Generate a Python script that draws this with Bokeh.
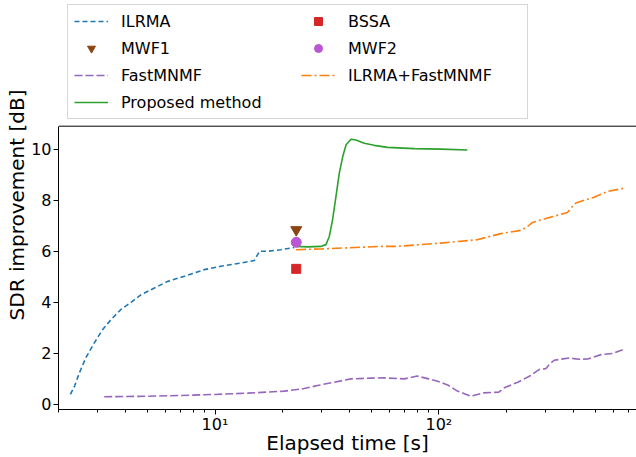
from bokeh.plotting import figure
from bokeh.models import Legend, LegendItem, CustomJSTickFormatter, Span, LogTicker
from bokeh.embed import file_html
from bokeh.resources import INLINE

# ---------------- data ----------------
ilrma_t = [2.26, 2.36, 2.48, 2.65, 2.89, 3.15, 3.43, 3.80, 4.22, 4.68, 5.36, 6.15,
           7.30, 8.96, 10.6, 13.1, 15.0, 15.8, 17.2, 19.7, 22.6]
ilrma_y = [0.39, 0.72, 1.24, 1.83, 2.41, 2.93, 3.32, 3.72, 4.00, 4.30, 4.56, 4.82,
           5.02, 5.28, 5.41, 5.54, 5.64, 6.00, 6.00, 6.06, 6.15]

bssa_t = [23.06]
bssa_y = [5.31]
mwf1_t = [23.06]
mwf1_y = [6.84]
mwf2_t = [23.06]
mwf2_y = [6.35]

fast_t = [3.2, 5.0, 7.0, 10.0, 14.0, 20.4, 25.0, 28.7, 34.1, 40.5, 50.0, 57.0, 70.0,
          80.0, 90.0, 98.6, 110.0, 121.0, 130.0, 139.0, 150.0, 158.0, 185.0, 196.0,
          225.0, 257.0, 281.0, 300.0, 311.0, 327.0, 382.0, 420.0, 462.0, 530.0,
          600.0, 666.0]
fast_y = [0.30, 0.32, 0.35, 0.39, 0.44, 0.52, 0.62, 0.74, 0.87, 1.00, 1.03, 1.04, 1.00,
          1.11, 1.00, 0.91, 0.75, 0.52, 0.42, 0.32, 0.40, 0.45, 0.48, 0.65,
          0.87, 1.13, 1.37, 1.40, 1.56, 1.73, 1.82, 1.77, 1.78, 1.95,
          2.00, 2.15]

combo_t = [23.0, 29.7, 55.1, 65.0, 102.0, 148.0, 189.0, 232.0, 249.0, 262.0, 305.0,
           375.0, 395.0, 409.0, 493.0, 566.0, 671.0]
combo_y = [6.06, 6.09, 6.19, 6.19, 6.32, 6.45, 6.69, 6.82, 6.97, 7.13, 7.30,
           7.52, 7.76, 7.89, 8.12, 8.34, 8.47]

prop_t = [23.06, 25.9, 29.7, 31.3, 32.4, 33.5, 34.7, 35.9, 37.2, 38.5, 40.5, 42.6,
          46.4, 51.4, 59.0, 77.6, 102.0, 134.0]
prop_y = [6.19, 6.17, 6.19, 6.26, 6.58, 7.23, 8.15, 9.06, 9.71, 10.17, 10.39, 10.36,
          10.23, 10.15, 10.07, 10.02, 10.00, 9.97]

y_ticks = [0, 2, 4, 6, 8, 10]

FONT = "DejaVu Sans"
Y_MIN, Y_MAX = -0.2, 10.9          # visible data box
Y_TOP = Y_MIN + (Y_MAX - Y_MIN) * 410.0 / 284.0   # frame extends up to hold the legend

p = figure(width=636, height=457, x_axis_type="log",
           x_range=(2.0, 763), y_range=(Y_MIN, Y_TOP),
           output_backend="svg", toolbar_location=None,
           min_border_left=58, min_border_right=0, min_border_top=0,
           min_border_bottom=47)
p.outline_line_color = None
p.grid.visible = False
p.background_fill_color = "white"
p.border_fill_color = "white"

r_ilrma = p.line(ilrma_t, ilrma_y, line_color="#1f77b4", line_width=1.6, line_dash="5 3")
r_mwf1 = p.scatter(mwf1_t, mwf1_y, marker="inverted_triangle", size=11,
                   fill_color="#8B4513", line_color="#8B4513")
r_fast = p.line(fast_t, fast_y, line_color="#9467bd", line_width=1.6, line_dash="8 3")
r_prop = p.line(prop_t, prop_y, line_color="#2ca02c", line_width=1.6)
r_bssa = p.scatter(bssa_t, bssa_y, marker="square", size=9,
                   fill_color="#d62728", line_color="#d62728")
r_mwf2 = p.scatter(mwf2_t, mwf2_y, marker="circle", size=10,
                   fill_color="#BA55D3", line_color="#BA55D3")
r_combo = p.line(combo_t, combo_y, line_color="#ff7f0e", line_width=1.6,
                 line_dash="10 3 2 3")

top = Span(location=Y_MAX, dimension="width", line_color="black", line_width=1)
p.add_layout(top)

# axes
for ax in (p.xaxis[0], p.yaxis[0]):
    ax.axis_line_color = "black"
    ax.axis_line_width = 1
    ax.major_tick_line_color = "black"
    ax.minor_tick_line_color = "black"
    ax.major_tick_in = 0
    ax.major_tick_out = 5
    ax.minor_tick_in = 0
    ax.minor_tick_out = 3
    ax.major_label_text_font = FONT
    ax.major_label_text_font_size = "16px"
    ax.major_label_text_color = "black"
    ax.axis_label_text_font = FONT
    ax.axis_label_text_font_size = "20px"
    ax.axis_label_text_font_style = "normal"
    ax.axis_label_text_color = "black"

p.yaxis.ticker = y_ticks
p.yaxis.bounds = (Y_MIN, Y_MAX)
p.yaxis.minor_tick_line_color = None
p.yaxis.axis_label = "SDR improvement [dB]"
p.yaxis.major_label_standoff = 2
p.yaxis.axis_label_standoff = -1

p.xaxis.ticker = LogTicker(num_minor_ticks=10)
p.xaxis.formatter = CustomJSTickFormatter(code="""
const e = Math.round(Math.log10(tick));
const s = {"0": "\u2070", "1": "\u00b9", "2": "\u00b2", "3": "\u00b3"};
return "10" + (s[String(e)] || String(e));
""")
p.xaxis.axis_label = "Elapsed time [s]"
p.xaxis.major_label_standoff = 0
p.xaxis.axis_label_standoff = -6

legend = Legend(items=[
    LegendItem(label="ILRMA", renderers=[r_ilrma]),
    LegendItem(label="MWF1", renderers=[r_mwf1]),
    LegendItem(label="FastMNMF", renderers=[r_fast]),
    LegendItem(label="Proposed method", renderers=[r_prop]),
    LegendItem(label="BSSA", renderers=[r_bssa]),
    LegendItem(label="MWF2", renderers=[r_mwf2]),
    LegendItem(label="ILRMA+FastMNMF", renderers=[r_combo]),
], ncols=2, location=(9, 290))
legend.label_text_font = FONT
legend.label_text_font_size = "16px"
legend.label_text_color = "black"
legend.glyph_width = 34
legend.glyph_height = 20
legend.label_height = 20
legend.label_standoff = 13
legend.label_width = 173
legend.spacing = 7
legend.padding = 6
legend.margin = 0
legend.border_line_color = "#cccccc"
legend.border_line_alpha = 0.8
legend.background_fill_color = "white"
legend.background_fill_alpha = 0.8
p.add_layout(legend)

open("out.html", "w").write(file_html(p, INLINE))
